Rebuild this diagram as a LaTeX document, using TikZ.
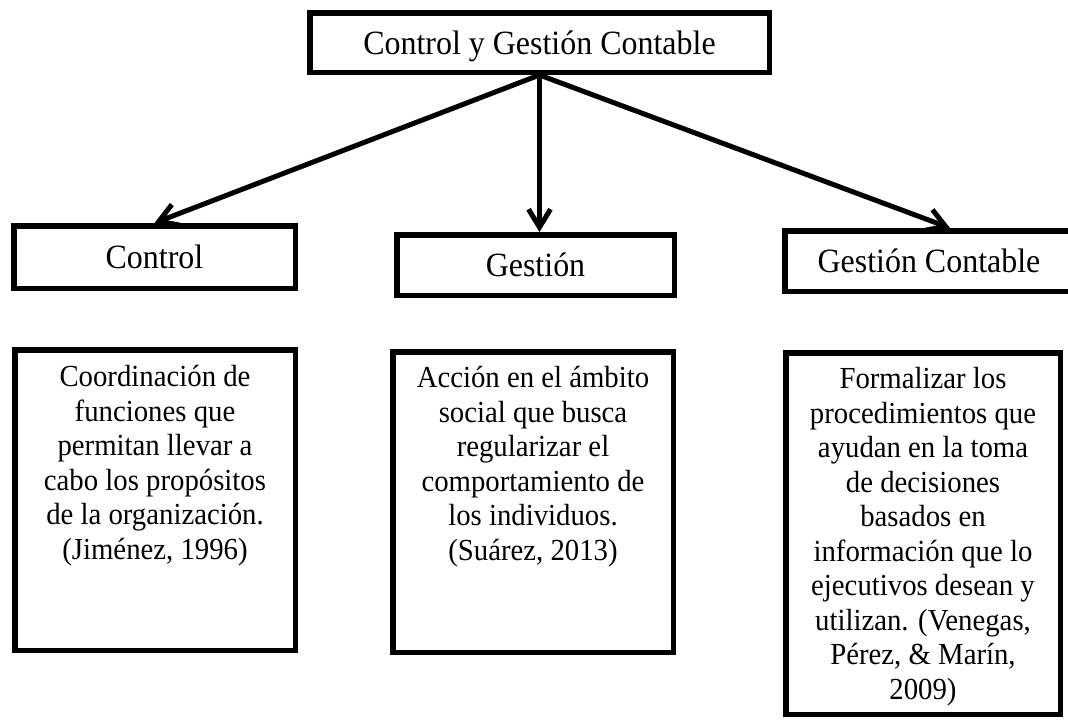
\documentclass[tikz,border=0pt]{standalone}
\usepackage{fontspec}
\setmainfont[FakeStretch=0.94]{Liberation Serif}
\usetikzlibrary{arrows.meta}

\tikzset{
    caja/.style={draw=black, line width=5.5pt, inner sep=0pt, text depth=0pt,
        font=\fontsize{34}{40}\selectfont},
    marco/.style={draw=black, line width=5.5pt, inner sep=0pt,
        minimum width=280.5pt, minimum height=300.5pt},
    texto/.style={align=center, inner sep=0pt, anchor=north,
        font=\fontsize{30.6}{34.5}\selectfont},
    flecha/.style={line width=5pt, -{Straight Barb[length=18pt,width=22pt]}}
}

\begin{document}
\begin{tikzpicture}[x=1pt,y=-1pt]
    \useasboundingbox (0,0) rectangle (1068,720);

    % titulo y las tres ramas
    \node[caja, minimum width=459.5pt, minimum height=59.5pt] (cgc) at (539.5,42.5) {Control y Gestión Contable};
    \node[caja, minimum width=281.5pt, minimum height=62.5pt] (control) at (154.5,257) {Control};
    \node[caja, minimum width=277.5pt, minimum height=60.5pt] (gestion) at (535.5,265) {Gestión};
    \node[caja, minimum width=288.5pt, minimum height=60.5pt] (gcont) at (929,261) {Gestión Contable};

    \draw[flecha] (cgc.south) -- (control.north);
    \draw[flecha] (cgc.south) -- (cgc.south |- gestion.north);
    \draw[flecha] (cgc.south) -- ([xshift=21pt]gcont.north);

    % definiciones
    \node[marco] (d1) at (155,500) {};
    \node[marco] (d2) at (533,502) {};
    \node[marco, minimum width=274.5pt, minimum height=361.5pt] (d3) at (923,533.5) {};

    \node[texto] (t1) at ([yshift=-18.5pt]d1.north) {Coordinación de\\funciones que\\permitan llevar a\\cabo los propósitos\\de la organización.\\(Jiménez, 1996)};
    \node[texto] (t2) at ([yshift=-17.5pt]d2.north) {Acción en el ámbito\\social que busca\\regularizar el\\comportamiento de\\los individuos.\\(Suárez, 2013)};
    \node[texto] (t3) at ([yshift=-17.5pt]d3.north) {Formalizar los\\procedimientos que\\ayudan en la toma\\de decisiones\\basados en\\información que lo\\ejecutivos desean y\\utilizan. (Venegas,\\Pérez, \& Marín,\\2009)};

\end{tikzpicture}
\end{document}
